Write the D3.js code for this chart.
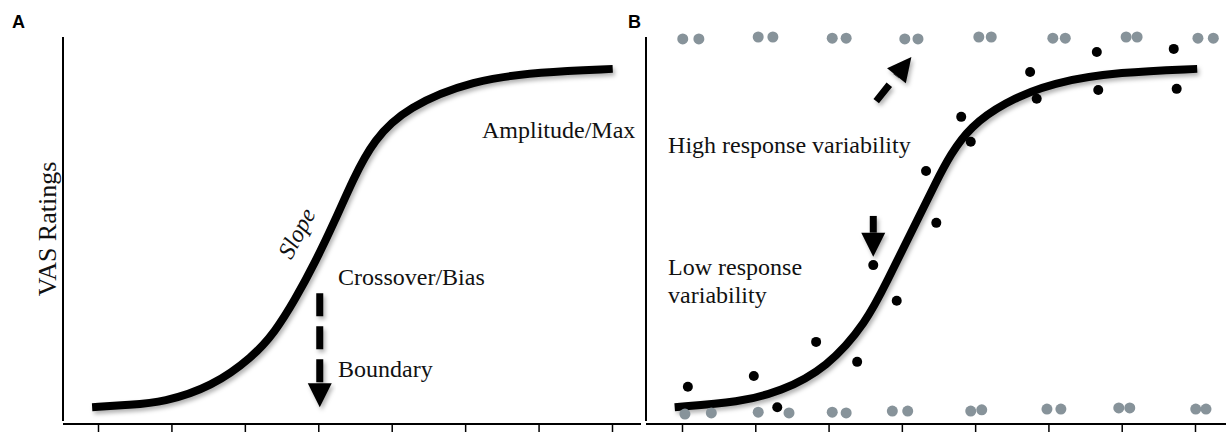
<!DOCTYPE html>
<html>
<head>
<meta charset="utf-8">
<script src="https://cdn.jsdelivr.net/npm/d3@7/dist/d3.min.js"></script>
<style>
	body{margin:0;background:#fff;}
	svg{display:block;}
	.lbl{font-family:"Liberation Serif","Times New Roman",serif;font-size:24px;fill:#111;}
	.panelTag{font-family:"Liberation Sans",Arial,sans-serif;font-weight:bold;font-size:18px;fill:#000;}
</style>
</head>
<body>
<svg id="chart" width="1226" height="432"></svg>
<script>
// stimulus levels (ticks only, no labels in the figure)
var xTicks = [0,1,2,3,4,5,6,7];

// A: idealised psychometric function (VAS 0-100)
var curveAx = [-0.08,0.44,0.89,1.55,2.11,2.41,2.68,2.96,3.23,3.47,3.75,4.21,5.11,6.02,7.01];
var curveAy = [3.6,4.2,4.9,8.9,16.7,23.2,31.5,41.4,52.3,62.8,73.2,81.8,88.8,90.9,91.7];

// B: fitted curve
var curveBx = [-0.10,0.79,1.34,1.98,2.52,2.80,3.11,3.48,3.66,3.93,4.38,5.06,5.98,7.03];
var curveBy = [3.6,4.9,7.6,13.8,25.8,36.5,48.4,62.8,69.3,76.6,82.8,88.3,90.9,91.7];

// B: single ratings, low variability
var lowX = [0.08,0.98,1.30,1.83,2.39,2.61,2.93,3.33,3.47,3.81,3.94,4.75,4.84,5.66,5.68,6.71,6.75];
var lowY = [8.9,11.7,3.6,20.6,15.4,40.6,31.3,65.1,51.6,79.2,72.7,90.9,83.9,96.1,86.2,96.9,86.5];

// B: ratings at the extremes, high variability
var highTopX = [0.01,0.23,1.04,1.24,2.05,2.24,3.04,3.22,4.05,4.22,5.06,5.23,6.06,6.21,7.04,7.25];
var highTopY = [99.5,99.5,100,100,99.7,99.7,99.5,99.5,100,100,99.7,99.7,100,100,99.7,99.7];
var highBotX = [0.04,0.40,1.04,1.46,2.05,2.24,2.87,3.08,3.94,4.09,4.98,5.17,5.96,6.11,7.01,7.15];
var highBotY = [1.8,2.1,2.3,2.1,2.3,2.1,2.6,2.6,2.6,2.9,3.1,3.1,3.4,3.4,3.1,3.1];

var svg = d3.select("#chart");
var W = +svg.attr("width"), H = +svg.attr("height");

var yTop = 37, yBottom = 421, xAxisY = 424, tickLen = 8;
var y = d3.scaleLinear().domain([0,100]).range([yBottom, yTop]);

var defs = svg.append("defs");
var f = defs.append("filter").attr("id","shadow")
	.attr("x","-10%").attr("y","-10%").attr("width","125%").attr("height","130%");
f.append("feDropShadow").attr("dx",2).attr("dy",3).attr("stdDeviation",2)
	.attr("flood-color","#000").attr("flood-opacity",0.3);

function panel(cfg){
	var g = svg.append("g");
	var x = d3.scaleLinear().domain([0,7]).range(cfg.range);

	// y axis line
	g.append("line")
		.attr("x1",cfg.yAxisX).attr("x2",cfg.yAxisX)
		.attr("y1",yTop).attr("y2",yBottom)
		.attr("stroke","#000").attr("stroke-width",2);

	// x axis: ticks from d3, long baseline drawn by hand
	var ax = g.append("g")
		.attr("transform","translate(0," + xAxisY + ")")
		.call(d3.axisBottom(x).tickValues(xTicks).tickSize(tickLen).tickSizeOuter(0).tickFormat(""));
	ax.select(".domain").remove();
	ax.selectAll(".tick line").attr("stroke","#000").attr("stroke-width",1.5);
	g.append("line")
		.attr("x1",cfg.xAxisStart).attr("x2",cfg.xAxisEnd)
		.attr("y1",xAxisY).attr("y2",xAxisY)
		.attr("stroke","#000").attr("stroke-width",2);

	g.append("text").attr("class","panelTag")
		.attr("x",cfg.tagX).attr("y",28).text(cfg.tag);

	return {g:g, x:x};
}

function drawCurve(p, xs, ys){
	var line = d3.line()
		.x(function(d){ return p.x(d[0]); })
		.y(function(d){ return y(d[1]); })
		.curve(d3.curveBasis);
	p.g.append("path")
		.datum(d3.zip(xs, ys))
		.attr("d", line)
		.attr("fill","none")
		.attr("stroke","#000")
		.attr("stroke-width",8)
		.attr("stroke-linecap","butt")
		.attr("filter","url(#shadow)");
}

// block arrow: shaft (optionally dashed) + triangular head
function arrow(g, x1, y1, x2, y2, dash){
	var dx = x2-x1, dy = y2-y1, len = Math.sqrt(dx*dx+dy*dy);
	var ux = dx/len, uy = dy/len, headLen = 24, half = 12;
	var bx = x2-ux*headLen, by = y2-uy*headLen;
	var a = g.append("g").attr("filter","url(#shadow)");
	a.append("line")
		.attr("x1",x1).attr("y1",y1).attr("x2",bx).attr("y2",by)
		.attr("stroke","#000").attr("stroke-width",7)
		.attr("stroke-dasharray",dash || null);
	a.append("polygon")
		.attr("points",[[x2,y2],[bx-uy*half,by+ux*half],[bx+uy*half,by-ux*half]].join(" "))
		.attr("fill","#000");
}

var A = panel({range:[98,612], yAxisX:63, xAxisStart:63, xAxisEnd:641, tag:"A", tagX:12});
var B = panel({range:[682,1195], yAxisX:646, xAxisStart:646, xAxisEnd:W, tag:"B", tagX:628});

// ---- panel A
A.g.append("text").attr("class","lbl")
	.attr("transform","translate(56," + ((yTop+yBottom)/2) + ") rotate(-90)")
	.attr("text-anchor","middle").style("font-size","26px").text("VAS Ratings");
drawCurve(A, curveAx, curveAy);
A.g.append("text").attr("class","lbl").attr("x",A.x(5.23)).attr("y",y(73.7)).text("Amplitude/Max");
A.g.append("text").attr("class","lbl").attr("x",A.x(3.27)).attr("y",y(35.4)).text("Crossover/Bias");
A.g.append("text").attr("class","lbl").attr("x",A.x(3.27)).attr("y",y(11.5)).text("Boundary");
A.g.append("text").attr("class","lbl")
	.attr("transform","translate(" + (A.x(2.72)+6) + "," + y(47.9) + ") rotate(-62)")
	.attr("text-anchor","middle").style("font-style","italic").text("Slope");
arrow(A.g, A.x(3.02), y(33.3), A.x(3.02), y(3.6), "23,10");

// ---- panel B
drawCurve(B, curveBx, curveBy);

B.g.selectAll(".high").data(d3.zip(highTopX, highTopY).concat(d3.zip(highBotX, highBotY)))
	.enter().append("circle").attr("class","high")
	.attr("cx",function(d){ return B.x(d[0]); })
	.attr("cy",function(d){ return y(d[1]); })
	.attr("r",5.5).attr("fill","#87939a");

B.g.selectAll(".low").data(d3.zip(lowX, lowY))
	.enter().append("circle").attr("class","low")
	.attr("cx",function(d){ return B.x(d[0]); })
	.attr("cy",function(d){ return y(d[1]); })
	.attr("r",5).attr("fill","#000");

B.g.append("text").attr("class","lbl").attr("x",B.x(-0.19)).attr("y",y(69.8)).text("High response variability");
B.g.append("text").attr("class","lbl").attr("x",B.x(-0.19)).attr("y",y(38.0)).text("Low response");
B.g.append("text").attr("class","lbl").attr("x",B.x(-0.19)).attr("y",y(30.7)).text("variability");

arrow(B.g, B.x(2.61), y(53.4), B.x(2.61), y(42.8));
arrow(B.g, B.x(2.65), y(83.3), B.x(3.13), y(94.8), "21,11");
</script>
</body>
</html>
